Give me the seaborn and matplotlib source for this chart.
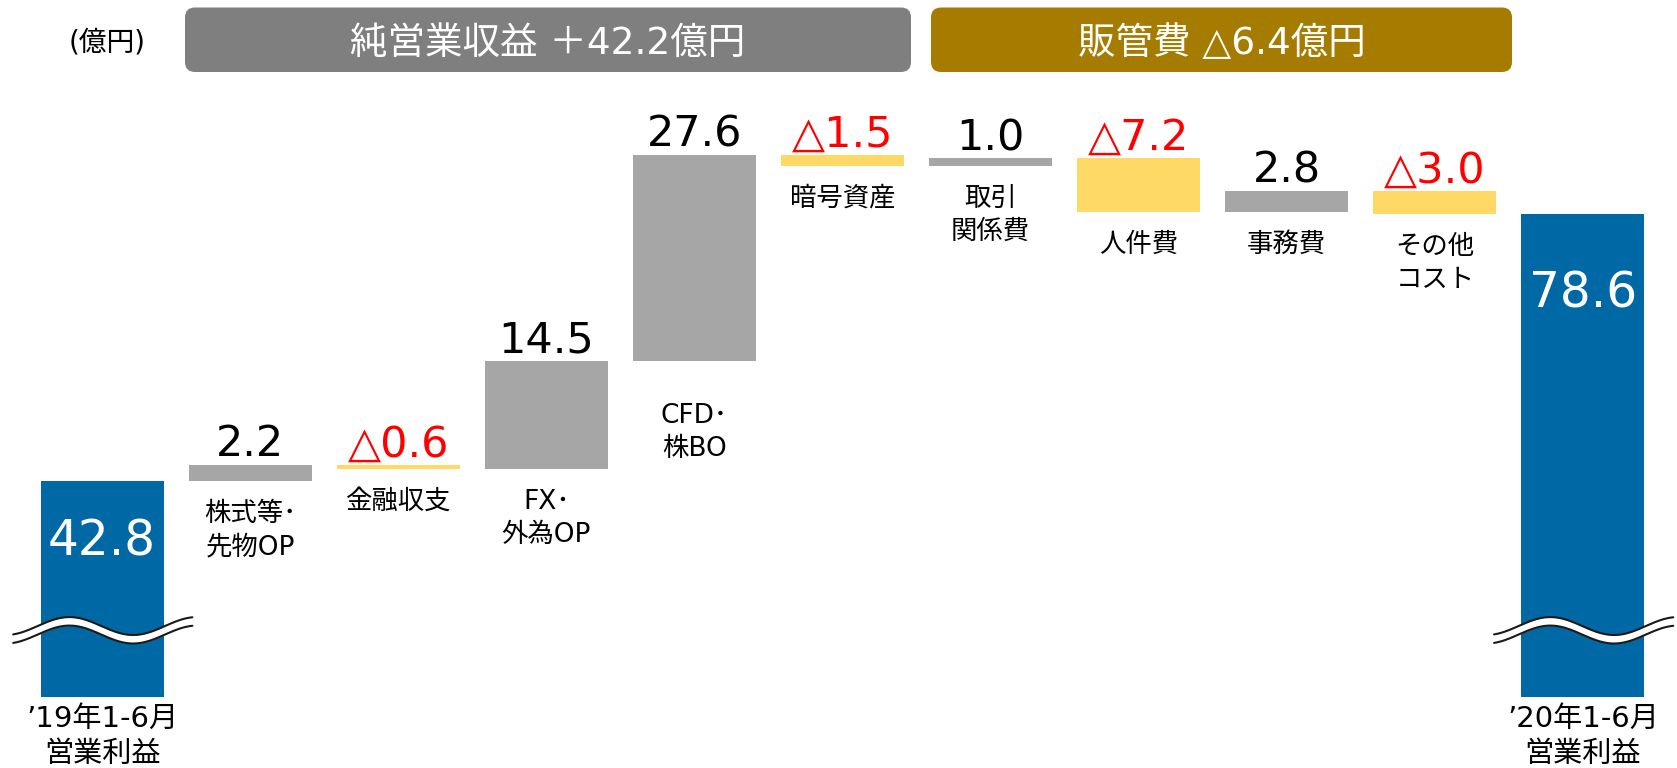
import numpy as np
import pandas as pd
import matplotlib
matplotlib.use("Agg")
import matplotlib.pyplot as plt
from matplotlib.patches import FancyBboxPatch
import seaborn as sns

# ---------------- data ----------------
categories = ["’19年1-6月\n営業利益", "株式等･\n先物OP", "金融収支", "FX･\n外為OP", "CFD･\n株BO",
              "暗号資産", "取引\n関係費", "人件費", "事務費", "その他\nコスト", "’20年1-6月\n営業利益"]
start_value = 42.8
changes = [2.2, -0.6, 14.5, 27.6, -1.5, 1.0, -7.2, 2.8, -3.0]
end_value = 78.6
header_texts = ["純営業収益 ＋42.2億円", "販管費 △6.4億円"]
unit_text = "(億円)"
axis_break_value = 13.9   # lower edge of the (broken) value axis

# ---------------- style ----------------
BLUE = "#0069A5"
GRAY = "#A6A6A6"
YELLOW = "#FFD966"
RED = "#FF0000"
HEAD_GRAY = "#7F7F7F"
HEAD_GOLD = "#A57C00"

sns.set_theme(style="white")
plt.rcParams["font.family"] = ["DejaVu Sans", "Noto Sans CJK JP"]

W, H, DPI = 1677, 768, 100
fig = plt.figure(figsize=(W / DPI, H / DPI), dpi=DPI)
ax = fig.add_axes([28 / W, 71 / H, 1629 / W, 597 / H])

# ---------------- waterfall table ----------------
cum = start_value + np.cumsum(changes)
prev = np.concatenate([[start_value], cum[:-1]])
bottoms = [0.0] + list(np.minimum(prev, cum)) + [0.0]
heights = [start_value] + list(np.abs(changes)) + [end_value]
colors = [BLUE] + [GRAY if c > 0 else YELLOW for c in changes] + [BLUE]
df = pd.DataFrame({"cat": categories, "height": heights})

sns.barplot(data=df, x="cat", y="height", bottom=np.array(bottoms), width=0.83,
            color=GRAY, saturation=1, ax=ax, linewidth=0)
for p, c in zip(ax.patches, colors):
    p.set_facecolor(c)
    p.set_edgecolor(c)

ax.set_xlim(-0.5, len(categories) - 0.5)
ax.set_ylim(axis_break_value, axis_break_value + 597 / 7.47)
ax.set_axis_off()

# ---------------- change labels ----------------
gap_px = {4: 54}
for i, ch in enumerate(changes, start=1):
    top = bottoms[i] + heights[i]
    txt = f"{ch:.1f}" if ch > 0 else f"△{abs(ch):.1f}"
    ax.annotate(txt, xy=(i, top), xytext=(0, 6), textcoords="offset points",
                ha="center", va="baseline", fontsize=31,
                color="black" if ch > 0 else RED)
    g = gap_px.get(i, 32)
    ax.annotate(categories[i], xy=(i, bottoms[i]), xytext=(0, -(g - 12) * 0.72),
                textcoords="offset points", ha="center", va="top",
                fontsize=19, linespacing=1.36, color="black")

# ---------------- start / end bars ----------------
inside_off = {0: 60, len(categories) - 1: 80}
for i in (0, len(categories) - 1):
    top = bottoms[i] + heights[i]
    ax.annotate(f"{heights[i]:.1f}", xy=(i, top), xytext=(0, -inside_off[i] * 0.72),
                textcoords="offset points", ha="center", va="center",
                fontsize=35, color="white")
    ax.annotate(categories[i], xy=(i, axis_break_value), xytext=(0, -6),
                textcoords="offset points", ha="center", va="top",
                fontsize=21, linespacing=1.3, color="black", annotation_clip=False)
    # axis-break wave
    x = np.linspace(i - 0.60, i + 0.61, 300)
    upper = 23.4 + 1.2 * np.cos(2 * np.pi * (x - i + 0.22) / 0.86)
    lower = upper - 1.14
    ax.fill_between(x, lower, upper, color="white", lw=0, clip_on=False, zorder=5)
    ax.plot(x, upper, color="#1a1a1a", lw=1.5, clip_on=False, zorder=6)
    ax.plot(x, lower, color="#1a1a1a", lw=1.5, clip_on=False, zorder=6)

# ---------------- header boxes ----------------
def px_box(x0, y0, x1, y1, color, text):
    box = FancyBboxPatch((x0 / DPI, (H - y1) / DPI), (x1 - x0) / DPI, (y1 - y0) / DPI,
                         boxstyle="round,pad=0,rounding_size=0.1",
                         transform=fig.dpi_scale_trans, facecolor=color,
                         edgecolor="none")
    fig.patches.append(box)
    fig.text((x0 + x1) / 2 / DPI, (H - (y0 + y1) / 2) / DPI, text,
             transform=fig.dpi_scale_trans, ha="center", va="center_baseline",
             fontsize=27, color="white")

px_box(185, 7.5, 911, 72, HEAD_GRAY, header_texts[0])
px_box(931, 7.5, 1512, 72, HEAD_GOLD, header_texts[1])
fig.text(107 / DPI, (H - 40) / DPI, unit_text, transform=fig.dpi_scale_trans,
         ha="center", va="center_baseline", fontsize=20, color="black")

fig.savefig("out.png", dpi=DPI)
